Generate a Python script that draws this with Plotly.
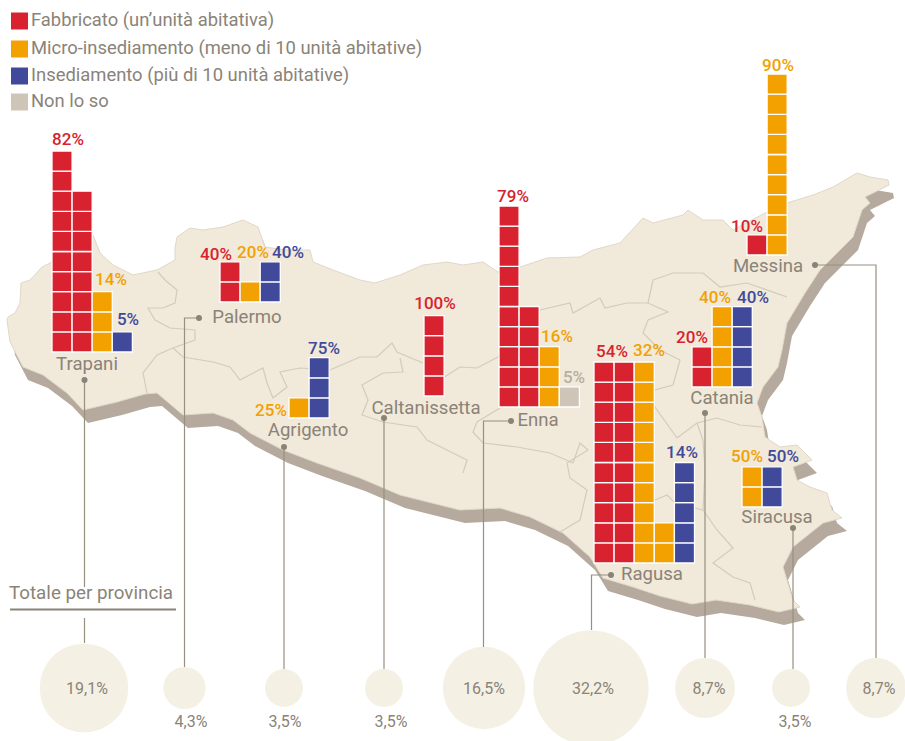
import numpy as np
import plotly.graph_objects as go

# ---------- data ----------
PROVINCES = ["Trapani", "Palermo", "Agrigento", "Caltanissetta", "Enna", "Ragusa", "Catania", "Siracusa", "Messina"]
SERIES = ["Fabbricato (un’unità abitativa)", "Micro-insediamento (meno di 10 unità abitative)",
          "Insediamento (più di 10 unità abitative)", "Non lo so"]
# number of unit squares per province
FABBRICATO_N = [18, 2, 0, 4, 15, 20, 2, 0, 1]
MICRO_N = [3, 1, 1, 0, 3, 12, 4, 2, 9]
INSEDIAMENTO_N = [1, 2, 3, 0, 0, 5, 4, 2, 0]
NONLOSO_N = [0, 0, 0, 0, 1, 0, 0, 0, 0]
# printed percentages
FABBRICATO_PCT = [82, 40, None, 100, 79, 54, 20, None, 10]
MICRO_PCT = [14, 20, 25, None, 16, 32, 40, 50, 90]
INSEDIAMENTO_PCT = [5, 40, 75, None, None, 14, 40, 50, None]
NONLOSO_PCT = [None, None, None, None, 5, None, None, None, None]
TOTALS = [19.1, 4.3, 3.5, 3.5, 16.5, 32.2, 8.7, 3.5, 8.7]

# ---------- layout helpers ----------
COLORS = ["#d8222f", "#f2a100", "#414a9a", "#cfc4b8"]
TEXT = "#8a8378"
LINE = "#97907f"
LAND = "#f1e9d9"
SHADOW = "#b5aa9d"
BORDER = "#d3cbbb"
PITCH = 20.1
CHART_X = [52, 220, 289, 424, 499, 594, 692, 742, 747]
CHART_BOTTOM = [352, 302, 418, 396, 407, 563, 387, 507, 255]
NAME_XY = [(87, 365), (247, 318), (308, 431), (426, 409), (538, 421), (652, 575), (722, 399), (777, 518), (768, 267)]
CIRCLE_X = [84, 184.5, 284, 384, 484, 591, 705, 791, 876]
CIRCLE_Y = 688
TOTAL_LABEL_XY = [(87, 690), (191, 723), (285, 723), (391, 723), (484, 690), (593, 690), (709, 690), (795, 723), (879, 690)]
PCT_XY = {
    0: [(68, 141), (111, 281), (128, 321), None],
    1: [(216, 256), (253, 254), (288, 254), None],
    2: [None, (271, 412), (324, 350), None],
    3: [(435, 305), None, None, None],
    4: [(513, 198), (557, 338), None, (574, 379)],
    5: [(612, 353), (649, 352), (682, 454), None],
    6: [(692, 339), (715, 299), (753, 299), None],
    7: [None, (747, 458), (783, 458), None],
    8: [(747, 228), (778, 67), None, None],
}
LEADERS = [
    ([(84.5, 380), (84.5, 587)], (84.5, 380)),
    ([(199, 318), (184.5, 318), (184.5, 667)], (199, 318)),
    ([(284, 447), (284, 669)], (284, 447)),
    ([(384, 418), (384, 669)], (384, 418)),
    ([(511, 421), (483.5, 421), (483.5, 647)], (511, 421)),
    ([(611, 575), (591.5, 575), (591.5, 630)], (611, 575)),
    ([(705, 413), (705, 658)], (705, 413)),
    ([(793, 528), (793, 669)], (793, 528)),
    ([(815, 265), (876, 265), (876, 658)], (815, 265)),
    ([(84.5, 618), (84.5, 643)], None),
]

LAND_X = [7, 8, 15, 20, 21, 30, 42, 60, 80, 93, 100, 113, 133, 157, 175, 175, 177, 190, 203, 223, 243, 258, 265,
          285, 310, 313, 333, 360, 375, 400, 423, 447, 463, 483, 498, 520, 547, 580, 593, 620, 643, 653, 683, 688,
          703, 723, 733, 767, 787, 813, 833, 857, 870, 888, 889, 865, 870, 862, 853, 833, 820, 805, 787, 782, 778,
          763, 757, 762, 765, 780, 797, 812, 793, 797, 810, 827, 832, 842, 823, 793, 783, 793, 800, 779, 750, 716,
          692, 660, 633, 603, 590, 563, 530, 500, 460, 400, 360, 317, 283, 250, 233, 213, 183, 157, 145, 117, 83, 67,
          43, 23, 10]
LAND_Y = [320, 317, 313, 303, 283, 280, 267, 258, 245, 235, 253, 265, 275, 270, 260, 248, 237, 228, 230, 227, 220,
          227, 247, 250, 250, 262, 270, 280, 283, 275, 265, 262, 265, 262, 272, 267, 258, 257, 250, 243, 218, 223,
          215, 210, 220, 220, 230, 212, 203, 195, 187, 173, 177, 180, 185, 197, 203, 210, 237, 257, 270, 293, 323,
          350, 367, 387, 403, 417, 437, 447, 445, 460, 467, 480, 487, 493, 510, 518, 523, 547, 567, 600, 607, 612,
          605, 600, 604, 596, 587, 578, 557, 533, 517, 508, 510, 495, 478, 463, 450, 433, 420, 413, 415, 393, 394, 402,
          410, 393, 375, 367, 342]
BORDERS = [
    [(158, 272), (165, 280), (177, 290), (175, 303), (163, 308), (148, 308), (155, 320), (170, 328), (195, 330),
     (195, 340), (173, 348), (157, 355), (143, 373), (147, 393)],
    [(173, 348), (183, 357), (213, 362), (230, 367), (240, 380), (263, 368), (267, 383), (273, 398), (287, 387),
     (280, 372), (300, 368), (330, 370), (360, 357), (377, 357), (392, 343), (397, 352), (423, 363)],
    [(400, 358), (403, 372), (383, 373), (362, 385), (368, 400), (362, 415), (383, 422), (417, 427), (427, 440),
     (467, 460), (463, 473)],
    [(443, 378), (460, 367), (477, 368), (498, 357), (510, 340), (505, 300), (518, 292), (498, 272)],
    [(500, 408), (477, 422), (473, 432), (483, 443), (517, 447), (550, 453), (573, 463), (580, 443), (588, 450),
     (567, 463), (570, 478), (587, 490), (580, 520), (560, 532)],
    [(655, 500), (667, 495), (675, 503), (703, 510), (717, 530), (733, 548), (713, 563), (733, 577), (750, 583),
     (755, 600)],
    [(677, 438), (697, 423), (717, 418), (740, 425), (762, 427)],
    [(540, 310), (570, 303), (573, 313), (600, 298), (605, 308), (627, 303), (648, 303), (668, 312), (648, 320),
     (643, 333), (660, 350), (680, 360), (673, 385), (655, 390), (650, 400), (677, 438)],
    [(653, 280), (673, 273), (703, 273), (720, 287), (747, 283), (787, 297)],
    [(653, 280), (648, 303)],
    [(697, 423), (703, 440), (705, 470), (703, 510)],
]


def path(xs, ys, close=True):
    s = "M" + " L".join(f"{x},{y}" for x, y in zip(xs, ys))
    return s + (" Z" if close else "")


shapes = [
    dict(type="path", path=path(np.array(LAND_X) + 5, np.array(LAND_Y) + 13), fillcolor=SHADOW, line=dict(width=0), layer="below"),
    dict(type="path", path=path(LAND_X, LAND_Y), fillcolor=LAND, line=dict(color="#e0d8c8", width=1), layer="below"),
]
for b in BORDERS:
    shapes.append(dict(type="path", path=path(*zip(*b), close=False), line=dict(color=BORDER, width=1.2), layer="below"))
shapes.append(dict(type="line", x0=10, x1=176, y0=609.5, y1=609.5, line=dict(color=TEXT, width=2), layer="below"))

fig = go.Figure()

# ---------- unit-square bars ----------
COUNTS = [FABBRICATO_N, MICRO_N, INSEDIAMENTO_N, NONLOSO_N]
bars = {k: ([], []) for k in range(4)}
for p in range(len(PROVINCES)):
    col = 0
    for s in range(4):
        n = COUNTS[s][p]
        while n > 0:
            take = min(n, 10)
            for i in range(take):
                bars[s][0].append(CHART_X[p] + (col + 0.5) * PITCH)
                bars[s][1].append(CHART_BOTTOM[p] - i * PITCH)
            n -= take
            col += 1
for s in range(4):
    fig.add_trace(go.Bar(x=bars[s][0], y=[-PITCH] * len(bars[s][0]), base=bars[s][1], width=PITCH,
                         marker=dict(color=COLORS[s], line=dict(color="#ffffff", width=1.3)),
                         hoverinfo="skip", showlegend=False))

# ---------- circles ----------
fig.add_trace(go.Scatter(x=CIRCLE_X, y=[CIRCLE_Y] * 9, mode="markers", hoverinfo="skip",
                         marker=dict(size=[2 * np.sqrt(v * 103) for v in TOTALS], sizemode="diameter", color=LAND, line=dict(width=0))))

# ---------- leaders ----------
for pts, dot in LEADERS:
    xs, ys = zip(*pts)
    fig.add_trace(go.Scatter(x=xs, y=ys, mode="lines", line=dict(color=LINE, width=1.2), hoverinfo="skip"))
    if dot:
        fig.add_trace(go.Scatter(x=[dot[0]], y=[dot[1]], mode="markers", marker=dict(size=6, color="#8a8378"), hoverinfo="skip"))

FONT = "Roboto"


def text(x, y, s, color, size, pos="middle center", weight=400):
    fig.add_trace(go.Scatter(x=[x], y=[y], mode="text", text=[s], textposition=pos, hoverinfo="skip",
                             textfont=dict(family=FONT, size=size, color=color, weight=weight)))


# ---------- legend ----------
LEGEND_Y = [21, 49, 76, 102]
fig.add_trace(go.Scatter(x=[19.5] * 4, y=LEGEND_Y, mode="markers", hoverinfo="skip",
                         marker=dict(symbol="square", size=17, color=COLORS, line=dict(width=0))))
for s in range(4):
    text(31, LEGEND_Y[s] + 0.5, SERIES[s], TEXT, 18.4, "middle right")

# ---------- labels ----------
PCTS = [FABBRICATO_PCT, MICRO_PCT, INSEDIAMENTO_PCT, NONLOSO_PCT]
LABEL_COLORS = ["#d8222f", "#f2a100", "#414a9a", "#b9ae9f"]
for p, name in enumerate(PROVINCES):
    text(NAME_XY[p][0], NAME_XY[p][1], name, TEXT, 18.6)
    text(TOTAL_LABEL_XY[p][0], TOTAL_LABEL_XY[p][1], f"{TOTALS[p]}%".replace(".", ","), TEXT, 16)
    for s in range(4):
        if PCTS[s][p] is not None and PCT_XY[p][s]:
            text(PCT_XY[p][s][0], PCT_XY[p][s][1], f"{PCTS[s][p]}%", LABEL_COLORS[s], 17, weight=500)
text(91, 594, "Totale per provincia", TEXT, 18.8)

fig.update_layout(
    width=905, height=741, margin=dict(l=0, r=0, t=0, b=0), showlegend=False,
    paper_bgcolor="white", plot_bgcolor="white", barmode="overlay", shapes=shapes,
    xaxis=dict(range=[0, 905], visible=False, fixedrange=True),
    yaxis=dict(range=[741, 0], visible=False, fixedrange=True),
)
fig.write_html("out.html", config={"displayModeBar": False},
               post_script="document.body.style.margin='0';document.documentElement.style.overflow='hidden';")
